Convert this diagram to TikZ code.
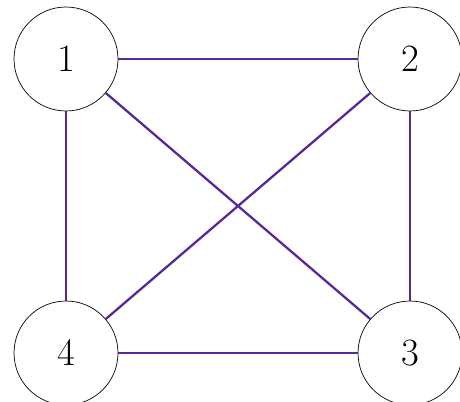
\documentclass[tikz,border=0pt]{standalone}
\usepackage{tikz}
\usepackage{xcolor}
\definecolor{edgeviolet}{RGB}{88,40,150}

\tikzset{
  vertex/.style={draw, circle, thin, minimum size=2.08cm, inner sep=0pt, font=\fontsize{22}{26}\selectfont},
  edge/.style={draw=edgeviolet, line width=1.3pt}
}

\begin{document}
\begin{tikzpicture}[x=0.02cm, y=-0.02cm]
\useasboundingbox (0,0) rectangle (460,402);
% vertices
\node[vertex] (n1) at (66,59) {1};
\node[vertex] (n2) at (410,59) {2};
\node[vertex] (n3) at (410,353) {3};
\node[vertex] (n4) at (66,353) {4};

% edges
\draw[edge] (n1) -- (n2);
\draw[edge] (n1) -- (n4);
\draw[edge] (n1) -- (n3);
\draw[edge] (n2) -- (n4);
\draw[edge] (n2) -- (n3);
\draw[edge] (n4) -- (n3);
\end{tikzpicture}
\end{document}
